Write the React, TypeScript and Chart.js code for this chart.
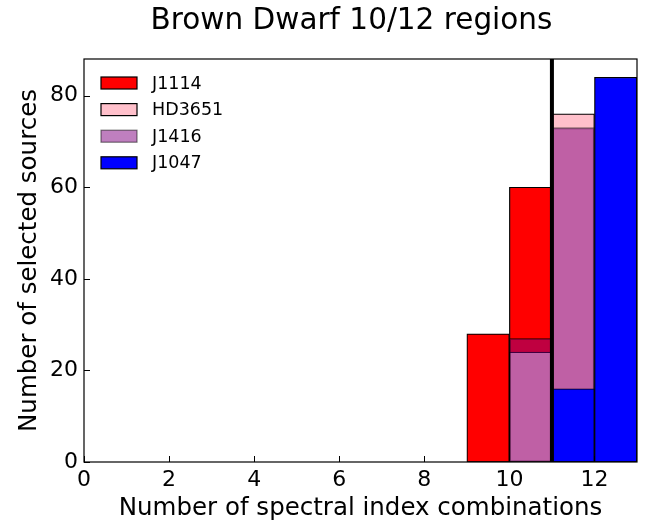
import React, { useEffect, useRef } from "react";
import { Chart, registerables } from "chart.js";

Chart.register(...registerables);

// Histogram bins (left edges, width 1) and counts per target
const binStarts = [9, 10, 11, 12];
const countsJ1114 = [28, 60, 0, 0];
const countsHD3651 = [0, 24, 76, 0];
const countsJ1416 = [0, 27, 73, 0];
const countsJ1047 = [0, 0, 16, 84];

const seriesNames = ["J1114", "HD3651", "J1416", "J1047"];
const seriesFill = ["rgb(255,0,0)", "rgb(255,192,203)", "rgba(128,0,128,0.5)", "rgb(0,0,255)"];
const seriesEdge = ["#000", "#000", "rgba(0,0,0,0.5)", "#000"];

const xTicks = [0, 2, 4, 6, 8, 10, 12];
const yTicks = [0, 20, 40, 60, 80];
const cutoffValue = 11;
const chartTitle = "Brown Dwarf 10/12 regions";

const FONT = "'DejaVu Sans', sans-serif";

function toPoints(counts: number[]) {
  return binStarts
    .map((b, i) => ({ x: b + 0.5, y: counts[i] }))
    .filter((p) => p.y > 0);
}

const framePlugin = {
  id: "frameAndLegend",
  afterDatasetsDraw(chart: any) {
    const { ctx, chartArea, scales } = chart;
    const x = scales.x.getPixelForValue(cutoffValue);
    ctx.save();
    ctx.strokeStyle = "#000";
    ctx.lineWidth = 4;
    ctx.beginPath();
    ctx.moveTo(x, chartArea.top);
    ctx.lineTo(x, chartArea.bottom);
    ctx.stroke();
    ctx.restore();
  },
  afterDraw(chart: any) {
    const { ctx, chartArea, scales } = chart;
    const { left, right, top, bottom } = chartArea;
    ctx.save();

    // title
    ctx.fillStyle = "#000";
    ctx.font = `29.5px ${FONT}`;
    ctx.textAlign = "center";
    ctx.textBaseline = "alphabetic";
    ctx.fillText(chartTitle, (left + right) / 2 - 9, 29);

    ctx.strokeStyle = "#000";
    ctx.lineWidth = 1.2;
    ctx.strokeRect(left, top, right - left, bottom - top);
    // inward tick marks
    ctx.beginPath();
    xTicks.forEach((v) => {
      const px = Math.round(scales.x.getPixelForValue(v)) + 0.5;
      ctx.moveTo(px, bottom);
      ctx.lineTo(px, bottom - 6);
    });
    yTicks.forEach((v) => {
      const py = Math.round(scales.y.getPixelForValue(v)) + 0.5;
      ctx.moveTo(left, py);
      ctx.lineTo(left + 6, py);
    });
    ctx.lineWidth = 1;
    ctx.stroke();

    // legend
    const boxX = left + 17;
    const boxW = 36;
    const boxH = 12;
    const firstY = top + 24;
    const step = 26.6;
    ctx.font = `17.5px ${FONT}`;
    ctx.textBaseline = "middle";
    ctx.textAlign = "left";
    seriesNames.forEach((name, i) => {
      const cy = firstY + i * step;
      ctx.fillStyle = seriesFill[i];
      ctx.fillRect(boxX, cy - boxH / 2, boxW, boxH);
      ctx.strokeStyle = seriesEdge[i];
      ctx.lineWidth = 1.2;
      ctx.strokeRect(boxX, cy - boxH / 2, boxW, boxH);
      ctx.fillStyle = "#000";
      ctx.fillText(name, boxX + boxW + 15, cy + 1);
    });
    ctx.restore();
  },
};

export default function App() {
  const canvasRef = useRef<HTMLCanvasElement>(null);

  useEffect(() => {
    if (!canvasRef.current) return;
    const allCounts = [countsJ1114, countsHD3651, countsJ1416, countsJ1047];
    const chart = new Chart(canvasRef.current, {
      type: "bar",
      data: {
        datasets: seriesNames.map((name, i) => ({
          label: name,
          data: toPoints(allCounts[i]),
          backgroundColor: seriesFill[i],
          borderColor: seriesEdge[i],
          borderWidth: 1.2,
          borderSkipped: false,
          grouped: false,
          barPercentage: 1,
          categoryPercentage: 1,
          order: seriesNames.length - i,
        })),
      },
      options: {
        animation: false,
        responsive: false,
        devicePixelRatio: 1,
        layout: { padding: { left: 0, right: 18, top: 59, bottom: 0 } },
        plugins: {
          legend: { display: false },
          tooltip: { enabled: false },
          title: { display: false },
        },
        scales: {
          x: {
            type: "linear",
            min: 0,
            max: 13,
            offset: false,
            grid: { display: false, drawTicks: false },
            border: { display: false },
            ticks: { color: "#000", font: { family: FONT, size: 22 }, padding: 5 },
            afterBuildTicks: (s: any) => {
              s.ticks = xTicks.map((v) => ({ value: v }));
            },
            afterFit: (s: any) => {
              s.height = 63;
            },
            title: {
              display: true,
              text: "Number of spectral index combinations",
              color: "#000",
              font: { family: FONT, size: 24.5 },
              padding: { top: 0, bottom: 2 },
            },
          },
          y: {
            type: "linear",
            min: 0,
            max: 88,
            grid: { display: false, drawTicks: false },
            border: { display: false },
            ticks: { color: "#000", font: { family: FONT, size: 22 }, padding: 6 },
            afterBuildTicks: (s: any) => {
              s.ticks = yTicks.map((v) => ({ value: v }));
            },
            afterFit: (s: any) => {
              s.width = 84;
            },
            title: {
              display: true,
              text: "Number of selected sources",
              color: "#000",
              font: { family: FONT, size: 24.5 },
              padding: { top: 15, bottom: 0 },
            },
          },
        },
      },
      plugins: [framePlugin],
    });
    return () => chart.destroy();
  }, []);

  return (
    <div style={{ position: "fixed", left: 0, top: 0, width: 655, height: 525, background: "#fff" }}>
      <canvas ref={canvasRef} width={655} height={525} />
    </div>
  );
}
